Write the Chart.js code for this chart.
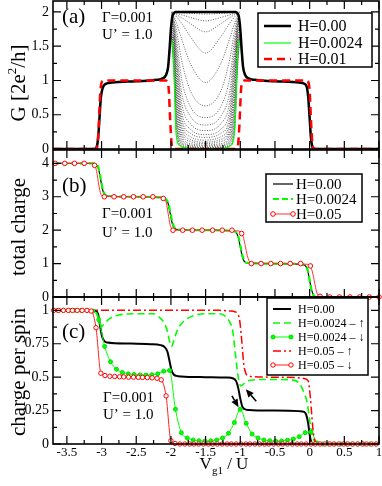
<!DOCTYPE html>
<html>
<head>
<meta charset="utf-8">
<script src="https://cdn.jsdelivr.net/npm/chart.js@4.4.0/dist/chart.umd.min.js"></script>
<style>
  html, body { margin: 0; padding: 0; background: #fff; }
  #wrap { position: relative; width: 382px; height: 486px; }
  #wrap canvas { position: absolute; left: 0; top: 0; }
</style>
</head>
<body>
<div id="wrap">
  <canvas id="pa" width="382" height="486"></canvas>
  <canvas id="pb" width="382" height="486"></canvas>
  <canvas id="pc" width="382" height="486"></canvas>
</div>
<script>
// ---- panel (a): conductance G [2e^2/h] vs Vg1/U
var aBlackX = [-3.7, -3.1, -3.07, -3.05, -3.03, -3.01, -2.98, -2.94, -2.85, -2.5, -2.2, -2.12, -2.07, -2.04, -2.02, -2.0, -1.98, -1.96, -1.93, -1.5, -1.07, -1.04, -1.02, -1.0, -0.98, -0.96, -0.93, -0.88, -0.8, -0.5, -0.15, -0.07, -0.04, -0.02, 0.0, 0.02, 0.04, 0.07, 1.0];
var aBlackY = [0, 0, 0.03, 0.15, 0.45, 0.75, 0.9, 0.95, 0.97, 0.99, 1.01, 1.03, 1.08, 1.2, 1.45, 1.75, 1.93, 1.98, 2.0, 2.0, 2.0, 1.98, 1.93, 1.75, 1.45, 1.2, 1.08, 1.03, 1.01, 0.99, 0.97, 0.95, 0.9, 0.75, 0.45, 0.15, 0.03, 0, 0];

var aGreenX = [-3.7, -3.1, -3.07, -3.05, -3.03, -3.01, -2.98, -2.94, -2.85, -2.5, -2.2, -2.12, -2.07, -2.04, -2.02, -2.0, -1.985, -1.97, -1.955, -1.94, -1.93, -1.91, -1.87, -1.81, -1.7, -1.5, -1.3, -1.2, -1.14, -1.1, -1.08, -1.065, -1.05, -1.035, -1.02, -1.0, -0.98, -0.96, -0.93, -0.88, -0.8, -0.5, -0.15, -0.07, -0.04, -0.02, 0.0, 0.02, 0.04, 0.07, 1.0];
var aGreenY = [0, 0, 0.03, 0.15, 0.45, 0.75, 0.9, 0.95, 0.97, 0.99, 1.01, 1.04, 1.1, 1.22, 1.38, 1.55, 1.58, 1.45, 1.15, 0.6, 0.3, 0.12, 0.05, 0.02, 0.01, 0.005, 0.01, 0.02, 0.05, 0.12, 0.3, 0.6, 1.15, 1.45, 1.58, 1.55, 1.38, 1.22, 1.1, 1.04, 1.01, 0.99, 0.97, 0.95, 0.9, 0.75, 0.45, 0.15, 0.03, 0, 0];

var aRedX = [-3.7, -3.08, -3.06, -3.04, -3.02, -3.0, -2.97, -2.5, -2.08, -2.05, -2.03, -2.01, -1.99, -1.97, -1.94, -1.5, -1.08, -1.05, -1.03, -1.01, -0.99, -0.97, -0.94, -0.5, -0.05, -0.02, 0.0, 0.02, 0.04, 0.06, 0.09, 1.0];
var aRedY = [0, 0, 0.05, 0.35, 0.8, 0.97, 1.0, 1.0, 1.0, 0.98, 0.85, 0.4, 0.08, 0.01, 0, 0, 0, 0.01, 0.08, 0.4, 0.85, 0.98, 1.0, 1.0, 1.0, 0.98, 0.85, 0.4, 0.08, 0.01, 0, 0];

// dotted curves for intermediate fields, read between the H=0 and H=0.0024 curves
var grayX = [-1.99, -1.96, -1.92, -1.85, -1.72, -1.5, -1.28, -1.15, -1.08, -1.04, -1.01];
var grayCurves = [
  [2.00, 2.00, 2.00, 1.99, 1.98, 1.97, 1.98, 1.99, 2.00, 2.00, 2.00],
  [1.99, 1.99, 1.98, 1.96, 1.92, 1.87, 1.92, 1.96, 1.98, 1.99, 1.99],
  [1.99, 1.98, 1.96, 1.92, 1.83, 1.71, 1.83, 1.92, 1.96, 1.98, 1.99],
  [1.98, 1.97, 1.93, 1.84, 1.64, 1.40, 1.64, 1.84, 1.93, 1.97, 1.98],
  [1.97, 1.94, 1.84, 1.62, 1.25, 0.97, 1.25, 1.62, 1.84, 1.94, 1.97],
  [1.96, 1.91, 1.74, 1.32, 0.85, 0.63, 0.85, 1.32, 1.74, 1.91, 1.96],
  [1.95, 1.88, 1.62, 1.05, 0.62, 0.46, 0.62, 1.05, 1.62, 1.88, 1.95],
  [1.93, 1.85, 1.50, 0.85, 0.48, 0.35, 0.48, 0.85, 1.50, 1.85, 1.93],
  [1.91, 1.82, 1.40, 0.70, 0.37, 0.27, 0.37, 0.70, 1.40, 1.82, 1.91],
  [1.89, 1.78, 1.30, 0.58, 0.29, 0.21, 0.29, 0.58, 1.30, 1.78, 1.89],
  [1.86, 1.74, 1.20, 0.48, 0.23, 0.17, 0.23, 0.48, 1.20, 1.74, 1.86],
  [1.83, 1.70, 1.10, 0.40, 0.18, 0.13, 0.18, 0.40, 1.10, 1.70, 1.83],
  [1.80, 1.65, 1.00, 0.33, 0.14, 0.10, 0.14, 0.33, 1.00, 1.65, 1.80],
  [1.77, 1.60, 0.90, 0.27, 0.11, 0.08, 0.11, 0.27, 0.90, 1.60, 1.77],
  [1.74, 1.55, 0.80, 0.22, 0.08, 0.06, 0.08, 0.22, 0.80, 1.55, 1.74],
  [1.71, 1.48, 0.70, 0.17, 0.06, 0.045, 0.06, 0.17, 0.70, 1.48, 1.71],
  [1.68, 1.40, 0.60, 0.13, 0.045, 0.03, 0.045, 0.13, 0.60, 1.40, 1.68],
  [1.65, 1.32, 0.50, 0.10, 0.03, 0.02, 0.03, 0.10, 0.50, 1.32, 1.65],
  [1.63, 1.26, 0.42, 0.08, 0.02, 0.015, 0.02, 0.08, 0.42, 1.26, 1.63],
  [1.62, 1.20, 0.35, 0.06, 0.015, 0.01, 0.015, 0.06, 0.35, 1.20, 1.62],
  [1.61, 1.14, 0.28, 0.045, 0.01, 0.007, 0.01, 0.045, 0.28, 1.14, 1.61]
];

// ---- panel (b): total charge
var bBlackX = [-3.7, -3.12, -3.08, -3.05, -3.02, -2.99, -2.96, -2.92, -2.5, -2.15, -2.08, -2.04, -2.01, -1.98, -1.95, -1.91, -1.5, -1.12, -1.06, -1.03, -1.0, -0.97, -0.94, -0.9, -0.5, -0.12, -0.06, -0.03, 0.0, 0.03, 0.06, 0.1, 1.0];
var bBlackY = [4.0, 4.0, 3.97, 3.88, 3.6, 3.25, 3.07, 3.02, 3.0, 2.98, 2.93, 2.8, 2.5, 2.2, 2.06, 2.02, 2.0, 1.98, 1.93, 1.8, 1.5, 1.2, 1.06, 1.02, 1.0, 0.98, 0.93, 0.8, 0.5, 0.2, 0.05, 0.0, 0.0];
var bGreenY = [4.0, 4.0, 3.98, 3.9, 3.62, 3.3, 3.1, 3.03, 3.0, 2.98, 2.94, 2.82, 2.55, 2.25, 2.08, 2.02, 2.0, 1.98, 1.94, 1.82, 1.55, 1.25, 1.08, 1.02, 1.0, 0.98, 0.94, 0.82, 0.5, 0.18, 0.04, 0.0, 0.0];

var bRedX = [-3.7, -3.14, -3.1, -3.07, -3.04, -3.01, -2.97, -2.5, -2.15, -2.1, -2.07, -2.04, -2.01, -1.98, -1.94, -1.5, -1.05, -1.0, -0.98, -0.95, -0.93, -0.9, -0.87, -0.83, -0.5, -0.05, 0.01, 0.04, 0.07, 0.1, 0.13, 0.17, 1.0];
var bRedY = [4.0, 4.0, 3.95, 3.75, 3.35, 3.08, 3.01, 3.0, 2.98, 2.95, 2.85, 2.5, 2.15, 2.03, 2.0, 2.0, 1.98, 1.96, 1.9, 1.75, 1.55, 1.25, 1.07, 1.01, 1.0, 0.98, 0.93, 0.75, 0.45, 0.15, 0.03, 0.0, 0.0];
var bRedMarkX = [-3.67, -3.53, -3.39, -3.25, -3.10, -2.96, -2.82, -2.68, -2.54, -2.40, -2.26, -2.11, -1.97, -1.83, -1.69, -1.55, -1.40, -1.26, -1.12, -0.98, -0.84, -0.70, -0.56, -0.42, -0.28, -0.13, 0.01, 0.15, 0.29, 0.43, 0.58, 0.72, 0.86, 1.00];
var bRedMarkY = [4, 4, 4, 4, 3.94, 3.0, 3, 3, 3, 3, 3, 2.95, 2.0, 2, 2, 2, 2, 2, 2, 1.9, 1.0, 1, 1, 1, 1, 1, 0.93, 0.02, 0, 0, 0, 0, 0, 0];

// ---- panel (c): charge per spin
var cBlackX = [-3.7, -3.12, -3.08, -3.05, -3.02, -2.99, -2.96, -2.92, -2.6, -2.3, -2.15, -2.09, -2.05, -2.02, -1.99, -1.96, -1.92, -1.85, -1.5, -1.2, -1.1, -1.06, -1.03, -1.0, -0.97, -0.94, -0.88, -0.5, -0.15, -0.08, -0.05, -0.02, 0.0, 0.02, 0.05, 1.0];
var cBlackY = [1.0, 1.0, 0.995, 0.97, 0.88, 0.8, 0.77, 0.76, 0.752, 0.747, 0.74, 0.725, 0.69, 0.62, 0.55, 0.52, 0.51, 0.505, 0.5, 0.497, 0.49, 0.47, 0.42, 0.34, 0.28, 0.262, 0.255, 0.25, 0.246, 0.24, 0.22, 0.15, 0.07, 0.02, 0.0, 0.0];

var cGreenUpX = [-3.7, -3.12, -3.07, -3.03, -3.0, -2.96, -2.88, -2.75, -2.5, -2.25, -2.15, -2.09, -2.05, -2.02, -1.99, -1.96, -1.93, -1.88, -1.81, -1.7, -1.5, -1.3, -1.2, -1.15, -1.11, -1.08, -1.05, -1.02, -0.99, -0.96, -0.91, -0.85, -0.74, -0.5, -0.25, -0.16, -0.12, -0.08, -0.04, 0.0, 0.03, 0.07, 0.12, 1.0];
var cGreenUpY = [1.0, 1.0, 0.98, 0.92, 0.88, 0.9, 0.94, 0.965, 0.975, 0.975, 0.94, 0.9, 0.84, 0.77, 0.73, 0.77, 0.82, 0.88, 0.92, 0.955, 0.975, 0.975, 0.95, 0.91, 0.85, 0.72, 0.58, 0.47, 0.435, 0.445, 0.467, 0.477, 0.482, 0.483, 0.48, 0.46, 0.43, 0.38, 0.32, 0.18, 0.08, 0.02, 0.0, 0.0];

var cGreenDnX = [-3.635, -3.55, -3.465, -3.38, -3.295, -3.21, -3.125, -3.04, -2.955, -2.87, -2.785, -2.7, -2.615, -2.53, -2.445, -2.36, -2.275, -2.19, -2.105, -2.02, -1.935, -1.85, -1.765, -1.68, -1.595, -1.51, -1.425, -1.34, -1.255, -1.17, -1.085, -1.0, -0.915, -0.83, -0.745, -0.66, -0.575, -0.49, -0.405, -0.32, -0.235, -0.15, -0.065, 0.02, 0.105, 0.19, 0.275, 0.36, 0.445, 0.53, 0.615, 0.7, 0.785, 0.87, 0.955];
var cGreenDnY = [1.0, 1.0, 1.0, 1.0, 1.0, 1.0, 0.995, 0.93, 0.73, 0.615, 0.56, 0.535, 0.525, 0.52, 0.517, 0.516, 0.518, 0.525, 0.545, 0.55, 0.26, 0.085, 0.045, 0.03, 0.024, 0.022, 0.024, 0.03, 0.045, 0.08, 0.16, 0.26, 0.155, 0.075, 0.045, 0.03, 0.025, 0.022, 0.023, 0.028, 0.037, 0.055, 0.085, 0.09, 0.008, 0, 0, 0, 0, 0, 0, 0, 0, 0, 0];

var cRedUpX = [-3.7, -1.3, -1.15, -1.08, -1.04, -1.01, -0.98, -0.95, -0.92, -0.88, -0.8, -0.5, -0.2, -0.08, -0.02, 0.01, 0.03, 0.05, 0.08, 0.11, 1.0];
var cRedUpY = [1.0, 1.0, 0.995, 0.99, 0.975, 0.93, 0.78, 0.6, 0.53, 0.51, 0.503, 0.5, 0.497, 0.49, 0.47, 0.35, 0.22, 0.1, 0.02, 0.0, 0.0];

var cRedDnX = [-3.69, -3.62, -3.55, -3.48, -3.42, -3.35, -3.28, -3.21, -3.15, -3.08, -3.01, -2.95, -2.88, -2.81, -2.74, -2.68, -2.61, -2.54, -2.47, -2.41, -2.34, -2.27, -2.20, -2.14, -2.07, -2.00, -1.94, -1.87, -1.80, -1.73, -1.67, -1.60, -1.53, -1.46, -1.40, -1.33, -1.26, -1.19, -1.13, -1.06, -0.99, -0.92, -0.86, -0.79, -0.72, -0.65, -0.59, -0.52, -0.45, -0.39, -0.32, -0.25, -0.18, -0.12, -0.05, 0.02, 0.08, 0.15, 0.22, 0.29, 0.35, 0.42, 0.49, 0.55, 0.62, 0.69, 0.76, 0.82, 0.89, 0.96];
var cRedDnY = [1, 1, 1, 1, 1, 1, 1, 1, 0.995, 0.87, 0.53, 0.512, 0.507, 0.505, 0.503, 0.502, 0.5, 0.5, 0.499, 0.498, 0.497, 0.495, 0.492, 0.48, 0.36, 0.025, 0.004, 0, 0, 0, 0, 0, 0, 0, 0, 0, 0, 0, 0, 0, 0, 0, 0, 0, 0, 0, 0, 0, 0, 0, 0, 0, 0, 0, 0, 0, 0, 0, 0, 0, 0, 0, 0, 0, 0, 0, 0, 0, 0, 0];

// arrows in panel (c), [Vg1/U, charge] of tail and head
var arrowTails = [[-0.77, 0.32], [-1.12, 0.36]];
var arrowHeads = [[-0.92, 0.41], [-1.025, 0.275]];

var X_MIN = -3.7, X_MAX = 1.0;
var SERIF = '"Liberation Serif", "DejaVu Serif", serif';

function xy(xs, ys) { return xs.map(function (x, i) { return { x: x, y: ys[i] }; }); }
function isMajor(v, step) { var r = v / step; return Math.abs(r - Math.round(r)) < 1e-6; }
function fmt(v) { return String(Math.round(v * 1000) / 1000); }

// text with super/subscripts, parts = [[text, 0|1|-1], ...]
function drawRich(ctx, parts, size, center) {
  var w = 0;
  var items = parts.map(function (p) {
    var fs = p[1] ? Math.round(size * 0.64) : size;
    ctx.font = fs + 'px ' + SERIF;
    var it = { s: p[0], k: p[1], fs: fs, x: w };
    w += ctx.measureText(p[0]).width;
    return it;
  });
  var x0 = center ? -w / 2 : 0;
  items.forEach(function (it) {
    ctx.font = it.fs + 'px ' + SERIF;
    var dy = it.k > 0 ? -size * 0.42 : (it.k < 0 ? size * 0.3 : 0);
    ctx.fillText(it.s, x0 + it.x, dy);
  });
}

function drawArrow(ctx, x1, y1, x2, y2) {
  var ang = Math.atan2(y2 - y1, x2 - x1), L = 8, W = 3.5;
  var bx = x2 - L * Math.cos(ang), by = y2 - L * Math.sin(ang);
  ctx.beginPath(); ctx.moveTo(x1, y1); ctx.lineTo(bx, by); ctx.lineWidth = 1.6; ctx.stroke();
  ctx.beginPath(); ctx.moveTo(x2, y2);
  ctx.lineTo(bx + W * Math.sin(ang), by - W * Math.cos(ang));
  ctx.lineTo(bx - W * Math.sin(ang), by + W * Math.cos(ang));
  ctx.closePath(); ctx.fill();
}

function drawLegend(chart, lg) {
  var ctx = chart.ctx, b = lg.box;
  ctx.fillStyle = '#fff';
  ctx.fillRect(b[0], b[1], b[2], b[3]);
  ctx.lineWidth = 1.5; ctx.strokeStyle = '#000';
  ctx.strokeRect(b[0], b[1], b[2], b[3]);
  lg.rows.forEach(function (r) {
    var ds = chart.data.datasets[r.ds];
    var mk = r.mk !== undefined ? chart.data.datasets[r.mk] : (ds.pointRadius > 0 ? ds : null);
    ctx.save();
    ctx.strokeStyle = ds.borderColor;
    ctx.lineWidth = ds.borderWidth;
    ctx.setLineDash(ds.borderDash || []);
    ctx.beginPath(); ctx.moveTo(lg.x1, r.y); ctx.lineTo(lg.x2, r.y); ctx.stroke();
    ctx.setLineDash([]);
    if (mk) {
      [lg.x1, lg.x2].forEach(function (px) {
        ctx.beginPath(); ctx.arc(px, r.y, mk.pointRadius, 0, 2 * Math.PI);
        ctx.fillStyle = mk.pointBackgroundColor; ctx.fill();
        ctx.lineWidth = mk.pointBorderWidth; ctx.strokeStyle = mk.pointBorderColor; ctx.stroke();
      });
    }
    ctx.fillStyle = '#000';
    ctx.font = lg.size + 'px ' + SERIF;
    ctx.textBaseline = 'middle';
    ctx.fillText(r.text, lg.tx, r.y + 1);
    ctx.restore();
  });
}

// frame, inward ticks on all sides, labels, legend
var panelPlugin = {
  id: 'panel',
  afterDatasetsDraw: function (chart, args, o) {
    var ctx = chart.ctx, a = chart.chartArea, xs = chart.scales.x, ys = chart.scales.y;
    ctx.save();
    ctx.strokeStyle = '#000';
    ctx.lineWidth = 1.2;
    ctx.beginPath();
    xs.ticks.forEach(function (t) {
      var p = xs.getPixelForValue(t.value);
      var len = isMajor(t.value, o.xMajor) ? 8 : 4;
      ctx.moveTo(p, a.bottom); ctx.lineTo(p, a.bottom - len);
      ctx.moveTo(p, a.top); ctx.lineTo(p, a.top + len);
    });
    ys.ticks.forEach(function (t) {
      var p = ys.getPixelForValue(t.value);
      var len = isMajor(t.value, o.yMajor) ? 8 : 4;
      ctx.moveTo(a.left, p); ctx.lineTo(a.left + len, p);
      ctx.moveTo(a.right, p); ctx.lineTo(a.right - len, p);
    });
    ctx.stroke();
    ctx.lineWidth = 1.6;
    ctx.strokeRect(a.left, a.top, a.right - a.left, a.bottom - a.top);

    ctx.fillStyle = '#000';
    ctx.textBaseline = 'alphabetic';
    o.texts.forEach(function (t) {
      ctx.font = t.size + 'px ' + SERIF;
      ctx.fillText(t.t, t.x, t.y);
    });

    if (o.arrows) {
      o.arrows.tails.forEach(function (tl, i) {
        var hd = o.arrows.heads[i];
        drawArrow(ctx, xs.getPixelForValue(tl[0]), ys.getPixelForValue(tl[1]),
          xs.getPixelForValue(hd[0]), ys.getPixelForValue(hd[1]));
      });
    }

    drawLegend(chart, o.legend);

    ctx.fillStyle = '#000';
    ctx.textBaseline = 'alphabetic';
    ctx.save();
    ctx.translate(o.ytitle.x, o.ytitle.y);
    ctx.rotate(-Math.PI / 2);
    drawRich(ctx, o.ytitle.parts, o.ytitle.size, true);
    ctx.restore();
    if (o.xtitle) {
      ctx.save();
      ctx.translate(o.xtitle.x, o.xtitle.y);
      drawRich(ctx, o.xtitle.parts, o.xtitle.size, true);
      ctx.restore();
    }
    ctx.restore();
  }
};

function makeOptions(c) {
  return {
    responsive: false,
    animation: false,
    events: [],
    layout: { autoPadding: false, padding: { left: 0, right: 3, top: c.top, bottom: c.bottom } },
    plugins: { legend: { display: false }, tooltip: { enabled: false }, panel: c.panel },
    scales: {
      x: {
        type: 'linear', min: X_MIN, max: X_MAX,
        grid: { display: false, drawTicks: false }, border: { display: false },
        ticks: {
          display: c.showX, stepSize: 0.25, autoSkip: false, maxRotation: 0, includeBounds: false,
          padding: 1, color: '#000', font: { family: SERIF, size: 13 },
          callback: function (v) { return isMajor(v, 0.5) ? fmt(v) : ''; }
        },
        afterFit: function (s) { s.height = c.showX ? 42 : 0; s.paddingLeft = 0; s.paddingRight = 0; }
      },
      y: {
        type: 'linear', min: 0, max: c.yMax,
        grid: { display: false, drawTicks: false }, border: { display: false },
        ticks: {
          stepSize: c.yStep, autoSkip: false, includeBounds: false,
          padding: 4, color: '#000', font: { family: SERIF, size: 14 },
          callback: function (v) { return isMajor(v, c.yMajor) ? fmt(v) : ''; }
        },
        afterFit: function (s) { s.width = 53; s.paddingTop = 0; s.paddingBottom = 0; }
      }
    }
  };
}

function line(data, color, width, extra) {
  var d = { data: data, borderColor: color, borderWidth: width, pointRadius: 0, fill: false, cubicInterpolationMode: 'monotone' };
  for (var k in extra) d[k] = extra[k];
  return d;
}

// ---- panel (a)
var dsA = [
  line(xy(aBlackX, aBlackY), '#000000', 2.5, { order: 1 }),
  line(xy(aGreenX, aGreenY), '#00ff00', 1.2, { order: 2 }),
  line(xy(aRedX, aRedY), '#ff0000', 2.5, { order: 0, borderDash: [8, 5] })
];
grayCurves.forEach(function (ys) {
  dsA.push(line(xy(grayX, ys), '#3a3a3a', 0.8, { order: 3, borderDash: [1, 1.5] }));
});

new Chart(document.getElementById('pa'), {
  type: 'line',
  data: { datasets: dsA },
  options: makeOptions({
    top: 1, bottom: 337, showX: false, yMax: 2.16, yStep: 0.25, yMajor: 0.5,
    panel: {
      xMajor: 0.5, yMajor: 0.5,
      texts: [
        { t: '(a)', x: 62, y: 23, size: 21 },
        { t: 'Γ=0.001', x: 102, y: 22, size: 15 },
        { t: 'U’ = 1.0', x: 102, y: 39, size: 15 }
      ],
      legend: {
        box: [258, 13, 114, 54], x1: 264, x2: 291, tx: 298, size: 16,
        rows: [{ ds: 0, y: 26, text: 'H=0.00' }, { ds: 1, y: 43, text: 'H=0.0024' }, { ds: 2, y: 59, text: 'H=0.01' }]
      },
      ytitle: { parts: [['G [2e', 0], ['2', 1], ['/h]', 0]], x: 25, y: 83, size: 21 }
    }
  }),
  plugins: [panelPlugin]
});

// ---- panel (b)
new Chart(document.getElementById('pb'), {
  type: 'line',
  data: {
    datasets: [
      line(xy(bBlackX, bBlackY), '#000000', 1.2, { order: 3 }),
      line(xy(bBlackX, bGreenY), '#00ff00', 2.2, { order: 2, borderDash: [6, 3] }),
      line(xy(bRedX, bRedY), '#ff3030', 1, { order: 1 }),
      {
        data: xy(bRedMarkX, bRedMarkY), showLine: false, order: 0, clip: false,
        borderColor: '#ff0000', pointRadius: 2.3, pointBorderWidth: 1,
        pointBorderColor: '#ff0000', pointBackgroundColor: '#ffffff'
      }
    ]
  },
  options: makeOptions({
    top: 150, bottom: 189, showX: false, yMax: 4.4, yStep: 0.5, yMajor: 1,
    panel: {
      xMajor: 0.5, yMajor: 1,
      texts: [
        { t: '(b)', x: 62, y: 192, size: 21 },
        { t: 'Γ=0.001', x: 102, y: 218, size: 15 },
        { t: 'U’ = 1.0', x: 102, y: 237, size: 15 }
      ],
      legend: {
        box: [266, 174, 96, 48], x1: 273, x2: 293, tx: 296, size: 15,
        rows: [{ ds: 0, y: 184, text: 'H=0.00' }, { ds: 1, y: 199, text: 'H=0.0024' }, { ds: 2, mk: 3, y: 214, text: 'H=0.05' }]
      },
      ytitle: { parts: [['total charge', 0]], x: 25, y: 227, size: 21 }
    }
  }),
  plugins: [panelPlugin]
});

// ---- panel (c)
new Chart(document.getElementById('pc'), {
  type: 'line',
  data: {
    datasets: [
      line(xy(cBlackX, cBlackY), '#000000', 2, { order: 4 }),
      line(xy(cGreenUpX, cGreenUpY), '#00ff00', 1.6, { order: 3, borderDash: [7, 4] }),
      line(xy(cGreenDnX, cGreenDnY), '#00ff00', 1, {
        order: 2, clip: false, pointRadius: 2, pointBorderWidth: 1,
        pointBorderColor: '#00e000', pointBackgroundColor: '#00ff00'
      }),
      line(xy(cRedUpX, cRedUpY), '#ff0000', 1.5, { order: 1, borderDash: [8, 3, 2, 3] }),
      line(xy(cRedDnX, cRedDnY), '#ff2020', 1, {
        order: 0, clip: false, pointRadius: 2.2, pointBorderWidth: 1,
        pointBorderColor: '#ff0000', pointBackgroundColor: '#ffffff'
      })
    ]
  },
  options: makeOptions({
    top: 297, bottom: 0, showX: true, yMax: 1.1, yStep: 0.125, yMajor: 0.25,
    panel: {
      xMajor: 0.5, yMajor: 0.25,
      texts: [
        { t: '(c)', x: 62, y: 338, size: 21 },
        { t: 'Γ=0.001', x: 103, y: 402, size: 15 },
        { t: 'U’ = 1.0', x: 103, y: 419, size: 15 }
      ],
      arrows: { tails: arrowTails, heads: arrowHeads },
      legend: {
        box: [267, 298, 101, 77], x1: 273, x2: 291, tx: 298, size: 12,
        rows: [
          { ds: 0, y: 309, text: 'H=0.00' },
          { ds: 1, y: 323, text: 'H=0.0024 – ↑' },
          { ds: 2, y: 337, text: 'H=0.0024 – ↓' },
          { ds: 3, y: 351, text: 'H=0.05 – ↑' },
          { ds: 4, y: 365, text: 'H=0.05 – ↓' }
        ]
      },
      ytitle: { parts: [['charge per spin', 0]], x: 25, y: 372, size: 21 },
      xtitle: { parts: [['V', 0], ['g1', -1], [' / U', 0]], x: 224, y: 469, size: 17 }
    }
  }),
  plugins: [panelPlugin]
});
</script>
</body>
</html>
